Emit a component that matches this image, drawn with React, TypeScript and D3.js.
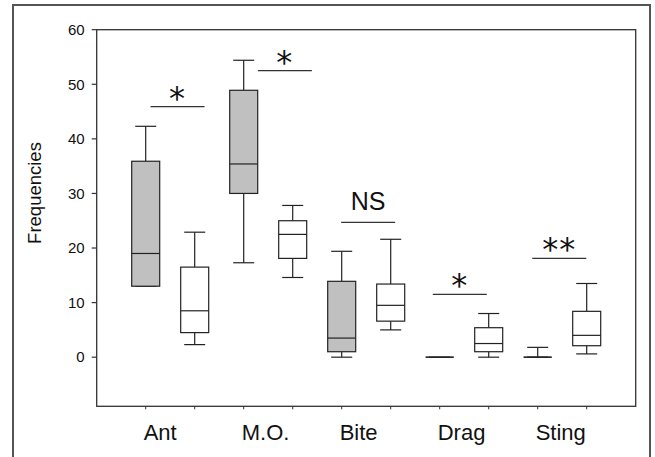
import React from "react";
import * as d3 from "d3";

const categories = ["Ant", "M.O.", "Bite", "Drag", "Sting"];
// grey (first) boxes
const greyMin = [13, 17.3, 0, 0, 0];
const greyQ1 = [13, 30, 1.0, 0, 0];
const greyMed = [19, 35.4, 3.5, 0, 0];
const greyQ3 = [35.9, 48.9, 13.9, 0, 0];
const greyMax = [42.3, 54.4, 19.4, 0, 1.8];
// white (second) boxes
const whiteMin = [2.3, 14.6, 5.0, 0, 0.6];
const whiteQ1 = [4.5, 18.1, 6.6, 1.0, 2.1];
const whiteMed = [8.5, 22.5, 9.5, 2.5, 4.0];
const whiteQ3 = [16.5, 25.0, 13.4, 5.4, 8.4];
const whiteMax = [22.9, 27.8, 21.6, 8.0, 13.5];
// significance annotations
const sigLabels = ["*", "*", "NS", "*", "**"];
const sigLevels = [45.9, 52.5, 24.7, 11.5, 18.1];
const sigCenters = [1.65, 3.84, 5.54, 7.41, 9.44];
const yTicks = [0, 10, 20, 30, 40, 50, 60];

const W = 655;
const H = 457;
const L = 96.7, R = 635.7, T = 29.7, B = 406.3;

export default function App() {
  const x = d3.scaleLinear().domain([0, 11]).range([L, R]);
  const y = d3.scaleLinear().domain([-9, 60]).range([B, T]);
  const boxW = 28;
  const capW = 21;
  const stroke = "#222";

  const boxes: any[] = [];
  categories.forEach((c, i) => {
    boxes.push({ pos: 2 * i + 1, min: greyMin[i], q1: greyQ1[i], med: greyMed[i], q3: greyQ3[i], max: greyMax[i], fill: "#c0c0c0" });
    boxes.push({ pos: 2 * i + 2, min: whiteMin[i], q1: whiteQ1[i], med: whiteMed[i], q3: whiteQ3[i], max: whiteMax[i], fill: "#ffffff" });
  });

  const font = "'Liberation Sans', Arial, Helvetica, sans-serif";

  return (
    <svg width={W} height={H} style={{ position: "absolute", left: 0, top: 0, background: "#fff" }} fontFamily={font}>
      <rect x={13} y={5} width={637} height={470} fill="none" stroke="#555" strokeWidth={2} />
      {/* plot frame */}
      <rect x={L} y={T} width={R - L} height={B - T} fill="none" stroke="#333" strokeWidth={1.3} />
      {/* y ticks */}
      {yTicks.map((t) => (
        <g key={t}>
          <line x1={L - 5} x2={L} y1={y(t)} y2={y(t)} stroke="#333" strokeWidth={1.2} />
          <text x={L - 12} y={y(t)} dy="0.35em" textAnchor="end" fontSize={15} fill="#111">{t}</text>
        </g>
      ))}
      {/* x ticks */}
      {d3.range(1, 11).map((p) => (
        <line key={p} x1={x(p)} x2={x(p)} y1={B} y2={B + 3} stroke="#333" strokeWidth={1} />
      ))}
      {/* category labels */}
      {categories.map((c, i) => (
        <text key={c} x={x(2 * i + 1) - 2} y={440} textAnchor="start" fontSize={22} fill="#111">{c}</text>
      ))}
      <text transform={`translate(41,193) rotate(-90)`} textAnchor="middle" fontSize={18.5} fill="#111">Frequencies</text>
      {/* boxes */}
      {boxes.map((b, k) => {
        const cx = x(b.pos);
        return (
          <g key={k} stroke={stroke} strokeWidth={1.2}>
            {b.max > b.q3 && <line x1={cx} x2={cx} y1={y(b.q3)} y2={y(b.max)} />}
            {b.min < b.q1 && <line x1={cx} x2={cx} y1={y(b.q1)} y2={y(b.min)} />}
            {b.max > b.q3 && <line x1={cx - capW / 2} x2={cx + capW / 2} y1={y(b.max)} y2={y(b.max)} />}
            <line x1={cx - capW / 2} x2={cx + capW / 2} y1={y(b.min)} y2={y(b.min)} />
            {b.q3 > b.q1 ? (
              <rect x={cx - boxW / 2} y={y(b.q3)} width={boxW} height={y(b.q1) - y(b.q3)} fill={b.fill} />
            ) : (
              <line x1={cx - boxW / 2} x2={cx + boxW / 2} y1={y(b.q1)} y2={y(b.q1)} />
            )}
            <line x1={cx - boxW / 2} x2={cx + boxW / 2} y1={y(b.med)} y2={y(b.med)} />
          </g>
        );
      })}
      {/* significance */}
      {sigLabels.map((s, i) => {
        const cx = x(sigCenters[i]);
        const half = 27;
        const isNS = s === "NS";
        return (
          <g key={i}>
            <line x1={cx - half} x2={cx + half} y1={y(sigLevels[i])} y2={y(sigLevels[i])} stroke="#333" strokeWidth={1.3} />
            <text
              x={cx}
              y={isNS ? y(sigLevels[i]) - 12 : y(sigLevels[i]) + 2}
              textAnchor="middle"
              fontSize={isNS ? 25 : 32}
              fontFamily={isNS ? font : "'DejaVu Sans', sans-serif"}
              fill="#111"
              letterSpacing={isNS ? 0 : 1}
            >
              {s}
            </text>
          </g>
        );
      })}
    </svg>
  );
}
